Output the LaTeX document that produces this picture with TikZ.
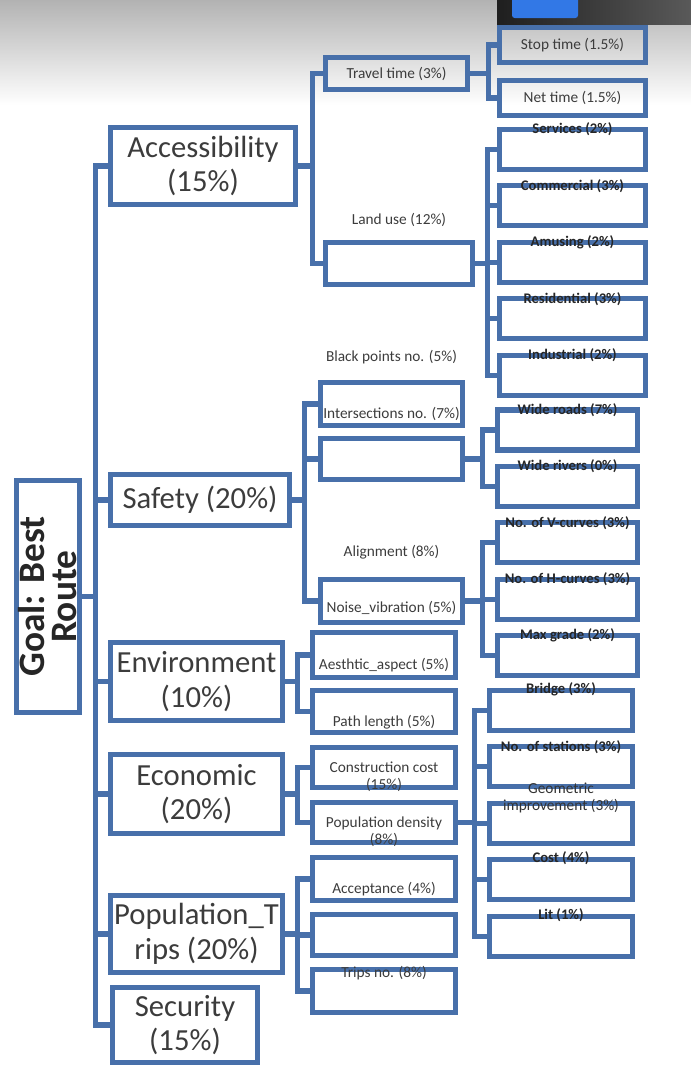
\documentclass[tikz,border=0pt]{standalone}
\usepackage{fontspec}
\setmainfont{Carlito}
\usetikzlibrary{positioning, calc}
\definecolor{boxblue}{RGB}{72,112,170}
\definecolor{txtgray}{RGB}{60,60,60}
\definecolor{tabblue}{RGB}{50,120,230}

\begin{document}
\begin{tikzpicture}[
    x=0.75pt, y=-0.75pt,
    node distance=8.5pt,
    goalbox/.style={rectangle, draw=boxblue, line width=3.8pt, align=center, inner sep=0pt,
                    font=\fontsize{28}{24}\selectfont\bfseries, text=black!85},
    critbox/.style={rectangle, draw=boxblue, line width=3.8pt, align=center, inner sep=0pt,
                    font=\fontsize{23}{26}\selectfont, text=txtgray},
    subbox/.style={rectangle, draw=boxblue, line width=3.8pt, align=center, inner sep=0pt,
                   minimum width=107pt, minimum height=32pt, font=\fontsize{11.5}{13}\selectfont, text=txtgray},
    leafbox/.style={rectangle, draw=boxblue, line width=3.8pt, align=center, inner sep=0pt,
                    minimum width=107pt, minimum height=30pt, font=\fontsize{11.5}{13}\selectfont, text=txtgray},
    tag/.style={align=center, inner sep=0pt, font=\fontsize{11.5}{13}\selectfont, text=txtgray},
    leaftag/.style={align=center, inner sep=0pt, font=\fontsize{11}{12}\selectfont\bfseries, text=black!85},
    link/.style={draw=boxblue, line width=3.8pt}
]
\useasboundingbox (0,0) rectangle (691,1068);

% screenshot band at the top
\shade[top color=black!30, bottom color=white] (0,0) rectangle (691,105);

% goal and criteria
\node[goalbox, rotate=90, minimum width=174pt, minimum height=47pt] (goal) at (48,596.5) {Goal: Best\\Route};

\node[critbox, minimum width=139pt, minimum height=58pt] (acc) at (203,166) {Accessibility\\(15\%)};
\node[critbox, minimum width=134pt, minimum height=38pt] (safety) at (200,500) {Safety (20\%)};
\node[critbox, minimum width=129pt, minimum height=58.5pt] (env) at (196.5,681.5) {Environment\\(10\%)};
\node[critbox, minimum width=129pt, minimum height=59pt] (econ) at (196.5,794) {Economic\\(20\%)};
\node[critbox, minimum width=129pt, minimum height=58pt] (pop) at (196.5,934) {Population\_T\\rips (20\%)};
\node[critbox, minimum width=109pt, minimum height=56pt] (sec) at (185,1025) {Security\\(15\%)};

% sub-criteria
\node[subbox, minimum width=106.5pt, minimum height=24pt] (travel) at (396.5,73.5) {Travel time (3\%)};
\node[subbox, minimum width=110pt, minimum height=31.5pt] (landuse) at (399,263.5) {};
\node[tag, above=10pt of landuse] (landuseT) {Land use (12\%)};

\node[subbox, minimum width=106.5pt] (sbox1) at (391.5,404) {};
\node[subbox, minimum width=106.5pt, minimum height=31pt] (sbox2) at (391.5,459) {};
\node[subbox, minimum width=106.5pt] (sbox3) at (391.5,601) {};
\node[tag, above=12pt of sbox1] (blackT) {Black points no. (5\%)};
\node[tag] (interT) at ([yshift=-7.5pt]sbox1.center) {Intersections no. (7\%)};
\node[tag, above=13.5pt of sbox3] (alignT) {Alignment (8\%)};
\node[tag] (noiseT) at ([yshift=-5pt]sbox3.center) {Noise\_vibration (5\%)};

\node[subbox, minimum height=34pt] (ebox1) at (384,655) {};
\node[subbox, minimum height=31.5pt] (ebox2) at (384,711.5) {};
\node[tag] (aesT) at ([yshift=-7.5pt]ebox1.center) {Aesthtic\_aspect (5\%)};
\node[tag] (pathT) at ([yshift=-8pt]ebox2.center) {Path length (5\%)};

\node[subbox, minimum height=30pt] (cbox1) at (384,767.5) {};
\node[subbox, minimum height=30pt] (cbox2) at (384,822.5) {};
\node[tag] (costT) at ([yshift=-7pt]cbox1.center) {Construction cost\\(15\%)};
\node[tag] (densT) at ([yshift=-7pt]cbox2.center) {Population density\\(8\%)};

\node[subbox] (pbox1) at (384,879) {};
\node[subbox, minimum height=31pt] (pbox2) at (384,935) {};
\node[subbox] (pbox3) at (384,991) {};
\node[tag] (accepT) at ([yshift=-7.5pt]pbox1.center) {Acceptance (4\%)};
\node[tag] (tripsT) at ([yshift=-4.5pt]pbox3.north) {Trips no. (8\%)};

% leaves of accessibility
\node[leafbox, minimum width=109.5pt, minimum height=26pt] (stop) at (572.5,45) {Stop time (1.5\%)};
\node[leafbox, minimum width=109.5pt, minimum height=26pt] (net) at (572.5,98) {Net time (1.5\%)};
\node[leafbox, minimum width=109.5pt] (services) at (572.5,149.5) {};
\node[leafbox, minimum width=109.5pt, below=of services] (commercial) {};
\node[leafbox, minimum width=109.5pt, below=of commercial] (amusing) {};
\node[leafbox, minimum width=109.5pt, below=of amusing] (residential) {};
\node[leafbox, minimum width=109.5pt, below=of residential] (industrial) {};
\node[leaftag] at ([yshift=-2pt]services.north) {Services (2\%)};
\node[leaftag] at ([yshift=-2pt]commercial.north) {Commercial (3\%)};
\node[leaftag] at ([yshift=-2pt]amusing.north) {Amusing (2\%)};
\node[leaftag] at ([yshift=-2pt]residential.north) {Residential (3\%)};
\node[leaftag] at ([yshift=-2pt]industrial.north) {Industrial (2\%)};

% leaves of safety
\node[leafbox, minimum width=105pt] (wroads) at (567.5,430) {};
\node[leafbox, minimum width=105pt, below=of wroads] (wrivers) {};
\node[leafbox, minimum width=105pt, below=of wrivers] (vcurves) {};
\node[leafbox, minimum width=105pt, below=of vcurves] (hcurves) {};
\node[leafbox, minimum width=105pt, below=of hcurves] (grade) {};
\node[leaftag] at ([yshift=-2pt]wroads.north) {Wide roads (7\%)};
\node[leaftag] at ([yshift=-2pt]wrivers.north) {Wide rivers (0\%)};
\node[leaftag] at ([yshift=-2pt]vcurves.north) {No. of V-curves (3\%)};
\node[leaftag] at ([yshift=-2pt]hcurves.north) {No. of H-curves (3\%)};
\node[leaftag] at ([yshift=-2pt]grade.north) {Max grade (2\%)};

% leaves of economic
\node[leafbox] (bridge) at (561,710.5) {};
\node[leafbox, below=of bridge] (stations) {};
\node[leafbox, below=of stations] (geom) {};
\node[leafbox, below=of geom] (cost) {};
\node[leafbox, below=of cost] (lit) {};
\node[leaftag] at ([yshift=-1pt]bridge.north) {Bridge (3\%)};
\node[leaftag] at ([yshift=-2pt]stations.north) {No. of stations (3\%)};
\node[tag, text=black!80] at ([yshift=2pt]geom.north) {Geometric\\improvement (3\%)};
\node[leaftag] at ([yshift=-1pt]cost.north) {Cost (4\%)};
\node[leaftag] at ([yshift=-1pt]lit.north) {Lit (1\%)};

% connectors
\foreach \c in {acc, safety, env, econ, pop, sec}
  \draw[link] (goal.south) -- ++(14,0) |- (\c.west);
\foreach \c in {travel, landuse}
  \draw[link] (acc.east) -- ++(14,0) |- (\c.west);
\foreach \c in {sbox1, sbox2, sbox3}
  \draw[link] (safety.east) -- ++(13,0) |- (\c.west);
\foreach \c in {ebox1, ebox2}
  \draw[link] (env.east) -- ++(12,0) |- (\c.west);
\foreach \c in {cbox1, cbox2}
  \draw[link] (econ.east) -- ++(12,0) |- (\c.west);
\foreach \c in {pbox1, pbox2, pbox3}
  \draw[link] (pop.east) -- ++(12,0) |- (\c.west);
\foreach \c in {stop, net}
  \draw[link] (travel.east) -- ++(18,0) |- (\c.west);
\foreach \c in {services, commercial, amusing, residential, industrial}
  \draw[link] (landuse.east) -- ++(13,0) |- (\c.west);
\foreach \c in {wroads, wrivers}
  \draw[link] (sbox2.east) -- ++(17,0) |- (\c.west);
\foreach \c in {vcurves, hcurves, grade}
  \draw[link] (sbox3.east) -- ++(17,0) |- (\c.west);
\foreach \c in {bridge, stations, geom, cost, lit}
  \draw[link] (cbox2.east) -- ++(17,0) |- (\c.west);

% window bar of the screenshot
\shade[left color=black!88, right color=black!65] (497,0) rectangle (691,24);
\fill[tabblue, rounded corners=2pt] (512,-4) rectangle (578,18);

\end{tikzpicture}
\end{document}
